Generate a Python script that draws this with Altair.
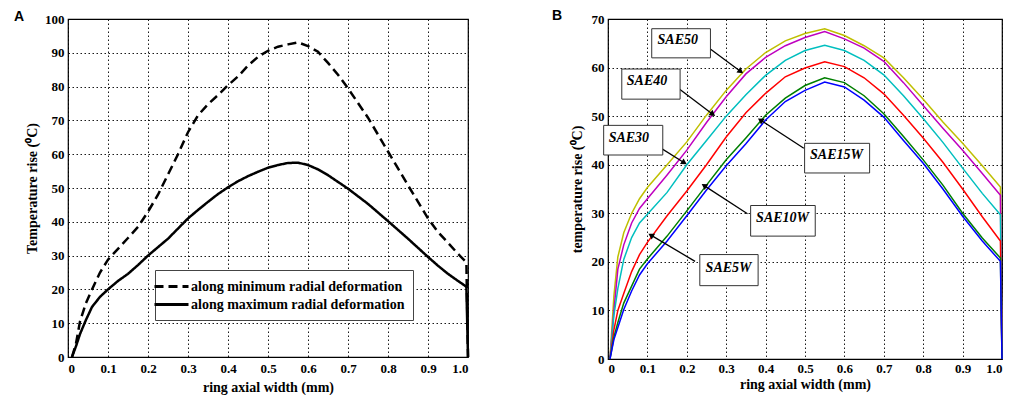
import math
import altair as alt
import pandas as pd

# ---------------- Panel A data ----------------
xA = [0.01, 0.02, 0.03, 0.045, 0.06, 0.08, 0.10, 0.125, 0.15, 0.175, 0.20, 0.225, 0.25, 0.275,
      0.30, 0.325, 0.35, 0.375, 0.40, 0.425, 0.45, 0.475, 0.50, 0.525, 0.55, 0.575, 0.60, 0.625,
      0.65, 0.675, 0.70, 0.75, 0.80, 0.85, 0.90, 0.925, 0.95, 0.975, 0.996, 1.0]
minA = [0, 4, 10.5, 16, 20, 25, 28.8, 32, 35.2, 38.5, 43, 48, 54, 60,
        66.5, 71.5, 74.8, 77.5, 80.4, 83, 86.2, 88.8, 90.6, 91.8, 92.5, 93.1, 92, 90.3,
        87, 83.5, 79.5, 70.8, 60.8, 50.8, 41, 37, 33.8, 30.5, 28, 0]
maxA = [0, 3.2, 6.8, 11, 14.8, 17.8, 20, 22.5, 24.6, 27.2, 30, 32.5, 35, 38,
        41, 43.5, 45.9, 48.2, 50.2, 52, 53.5, 54.8, 56, 56.8, 57.4, 57.5, 56.8, 55.5,
        53.8, 51.8, 49.8, 45.3, 40.2, 35, 29.6, 27, 24.6, 22.5, 20.8, 0]
seriesA = ["along minimum radial deformation", "along maximum radial deformation"]

# ---------------- Panel B data ----------------
xB = [0.005, 0.015, 0.025, 0.04, 0.06, 0.08, 0.10, 0.15, 0.20, 0.25, 0.30, 0.35, 0.40, 0.45,
      0.50, 0.55, 0.60, 0.65, 0.70, 0.75, 0.80, 0.85, 0.90, 0.95, 0.996, 1.0]
sae50 = [0, 13, 21, 26, 30, 33, 35.3, 40, 44.7, 50.2, 55.3, 59.7, 63.1, 65.5,
         67, 68, 66.6, 64.5, 62.0, 57.9, 53.5, 48.8, 44.4, 39.8, 35.4, 0]
sae40 = [0, 10, 18.5, 23.5, 28, 31, 33, 37.9, 43, 48.7, 54, 58.7, 62.1, 64.5,
         66.2, 67.4, 65.9, 64.0, 61.3, 56.9, 52.2, 47.5, 43.0, 38.2, 33.7, 0]
sae30 = [0, 9, 14.5, 20.5, 25, 28, 29.8, 34.3, 40, 45, 50, 54.4, 58.4, 61.5,
         63.5, 64.6, 63.5, 61.5, 58.5, 54.2, 49.5, 44.6, 39.3, 34.1, 29.7, 0]
sae15w = [0, 6, 10, 13.5, 18, 21.5, 24, 29.5, 34.6, 40, 45.7, 50.7, 54.7, 58.1,
          59.9, 61.2, 60.2, 57.9, 54.6, 50.2, 45.5, 40.5, 35.0, 29.3, 24.3, 0]
sae10w = [0, 4.5, 7.5, 11.5, 15, 18.5, 20.6, 25.3, 30.5, 35.8, 41, 45.5, 50.2, 53.7,
          56.3, 57.9, 56.9, 54.2, 50.5, 45.8, 41.0, 35.8, 30.0, 24.9, 20.8, 0]
sae5w = [0, 4, 6.5, 10.2, 14, 17.3, 19.6, 24.3, 29.5, 34.8, 39.8, 44.3, 49.2, 53,
         55.3, 57.0, 56.0, 53.3, 49.8, 45.0, 40.3, 35.0, 29.4, 24.3, 20.1, 0]
seriesB = ["SAE50", "SAE40", "SAE30", "SAE15W", "SAE10W", "SAE5W"]
colorsB = ["#bfbf00", "#bf00bf", "#00bfbf", "#ff0000", "#007f00", "#0000ff"]

# annotations (panel B): label, text centre, box corners, arrow start/end
ann_label = ["SAE50", "SAE40", "SAE30", "SAE15W", "SAE10W", "SAE5W"]
ann_tx = [0.177, 0.099, 0.053, 0.580, 0.443, 0.306]
ann_ty = [65.7, 57.2, 45.4, 41.9, 29.1, 18.8]
box_x1 = [0.111, 0.035, -0.011, 0.499, 0.362, 0.233]
box_x2 = [0.260, 0.183, 0.139, 0.664, 0.526, 0.381]
box_y1 = [62.0, 53.5, 42.0, 38.3, 25.3, 15.1]
box_y2 = [68.0, 59.7, 48.1, 44.4, 31.6, 21.5]
arr_x1 = [0.240, 0.171, 0.115, 0.497, 0.354, 0.221]
arr_y1 = [65.0, 56.2, 44.4, 43.4, 29.9, 20.1]
arr_x2 = [0.335, 0.264, 0.1915, 0.389, 0.246, 0.111]
arr_y2 = [59.3, 50.5, 40.5, 49.1, 35.6, 25.4]

WA, HA = 400, 338
WB, HB = 394, 340

# ---------------- build tables ----------------
dfA = pd.DataFrame({
    "x": xA * 2,
    "y": minA + maxA,
    "series": [seriesA[0]] * len(xA) + [seriesA[1]] * len(xA),
})

rowsB = []
for name, ys in zip(seriesB, [sae50, sae40, sae30, sae15w, sae10w, sae5w]):
    for xv, yv in zip(xB, ys):
        rowsB.append({"x": xv, "y": yv, "series": name})
dfB = pd.DataFrame(rowsB)

angles = []
for a, b, c, d in zip(arr_x1, arr_y1, arr_x2, arr_y2):
    dx = (c - a) * WB
    dy = -(d - b) * HB / 70.0
    ang = math.degrees(math.atan2(dx, -dy)) % 360
    angles.append(ang)

dfAnn = pd.DataFrame({
    "label": ann_label, "tx": ann_tx, "ty": ann_ty,
    "bx1": box_x1, "bx2": box_x2, "by1": box_y1, "by2": box_y2,
    "ax1": arr_x1, "ay1": arr_y1, "ax2": arr_x2, "ay2": arr_y2,
    "angle": angles,
})

xlabel_expr = "datum.value == 0 ? '0' : format(datum.value, '.1f')"
xticks = [round(i * 0.1, 1) for i in range(11)]

# ---------------- Panel A ----------------
xA_enc = alt.X("x:Q", scale=alt.Scale(domain=[0, 1], nice=False),
               axis=alt.Axis(values=xticks, labelExpr=xlabel_expr, labelPadding=5, titlePadding=5),
               title="ring axial width (mm)")
yA_enc = alt.Y("y:Q", scale=alt.Scale(domain=[0, 100], nice=False),
               axis=alt.Axis(values=list(range(0, 101, 10)), labelPadding=4, titlePadding=5),
               title="Temperature rise (⁰C)")

chartA = alt.Chart(dfA).mark_line(color="black", strokeWidth=2.5).encode(
    x=xA_enc,
    y=yA_enc,
    strokeDash=alt.StrokeDash(
        "series:N",
        scale=alt.Scale(domain=seriesA, range=[[9, 5], [1, 0]]),
        legend=alt.Legend(
            title=None, orient="none", legendX=87, legendY=251, direction="vertical",
            symbolType="M-2.5,0H2.5", symbolSize=185, symbolStrokeWidth=3,
            symbolStrokeColor="black", labelOffset=11, labelLimit=0,
            labelFont="Liberation Serif", labelFontSize=14, labelFontWeight="bold",
            labelColor="black", fillColor="white", strokeColor="#444",
            padding=8, rowPadding=2,
        ),
    ),
).properties(
    width=WA, height=HA,
    title=alt.Title("A", anchor="start", frame="group", dx=-54, offset=-11,
                    font="Liberation Sans", fontSize=14, fontWeight="bold", color="black"),
)

# ---------------- Panel B ----------------
xB_scale = alt.Scale(domain=[0, 1], nice=False)
yB_scale = alt.Scale(domain=[0, 70], nice=False)
xB_axis = alt.Axis(values=xticks, labelExpr=xlabel_expr, labelPadding=3, titlePadding=2)
yB_axis = alt.Axis(values=list(range(0, 71, 10)), labelPadding=4, titlePadding=7)
xB_title = "ring axial width (mm)"
yB_title = "temperature rise (⁰C)"


def bx(field):
    return alt.X(field, scale=xB_scale, axis=xB_axis, title=xB_title)


def by(field):
    return alt.Y(field, scale=yB_scale, axis=yB_axis, title=yB_title)


linesB = alt.Chart(dfB).mark_line(strokeWidth=1.5).encode(
    x=bx("x:Q"), y=by("y:Q"),
    color=alt.Color("series:N", scale=alt.Scale(domain=seriesB, range=colorsB), legend=None),
)

arrows = alt.Chart(dfAnn).mark_rule(color="black", strokeWidth=1.3).encode(
    x=bx("ax1:Q"), y=by("ay1:Q"), x2="ax2:Q", y2="ay2:Q",
)
heads = alt.Chart(dfAnn).mark_point(shape="triangle", filled=True, color="black",
                                    size=45, opacity=1).encode(
    x=bx("ax2:Q"), y=by("ay2:Q"),
    angle=alt.Angle("angle:Q", scale=None),
)
boxes = alt.Chart(dfAnn).mark_rect(fill="white", stroke="#333", strokeWidth=1).encode(
    x=bx("bx1:Q"), x2="bx2:Q", y=by("by1:Q"), y2="by2:Q",
)
texts = alt.Chart(dfAnn).mark_text(font="Liberation Serif", fontSize=14, fontWeight="bold",
                                   fontStyle="italic", color="black", align="center",
                                   baseline="middle").encode(
    x=bx("tx:Q"), y=by("ty:Q"), text="label:N",
)

chartB = alt.layer(linesB, arrows, heads, boxes, texts).properties(
    width=WB, height=HB,
    title=alt.Title("B", anchor="start", frame="group", dx=-56, offset=-10,
                    font="Liberation Sans", fontSize=14, fontWeight="bold", color="black"),
)

chart = alt.hconcat(chartA, chartB, spacing=77).properties(
    padding={"left": 5, "top": 0, "right": 0, "bottom": 0}
).configure_axis(
    labelFont="Liberation Serif", labelFontSize=13, labelFontWeight="bold", labelColor="black",
    titleFont="Liberation Serif", titleFontSize=14, titleFontWeight="bold", titleColor="black",
    grid=True, gridColor="black", gridDash=[1.5, 2.5], gridWidth=0.9,
    domain=False, ticks=False, labelOverlap=False,
).configure_view(stroke="black", strokeWidth=1.2)

chart.save("out.html", embed_options={"renderer": "svg", "actions": False})
